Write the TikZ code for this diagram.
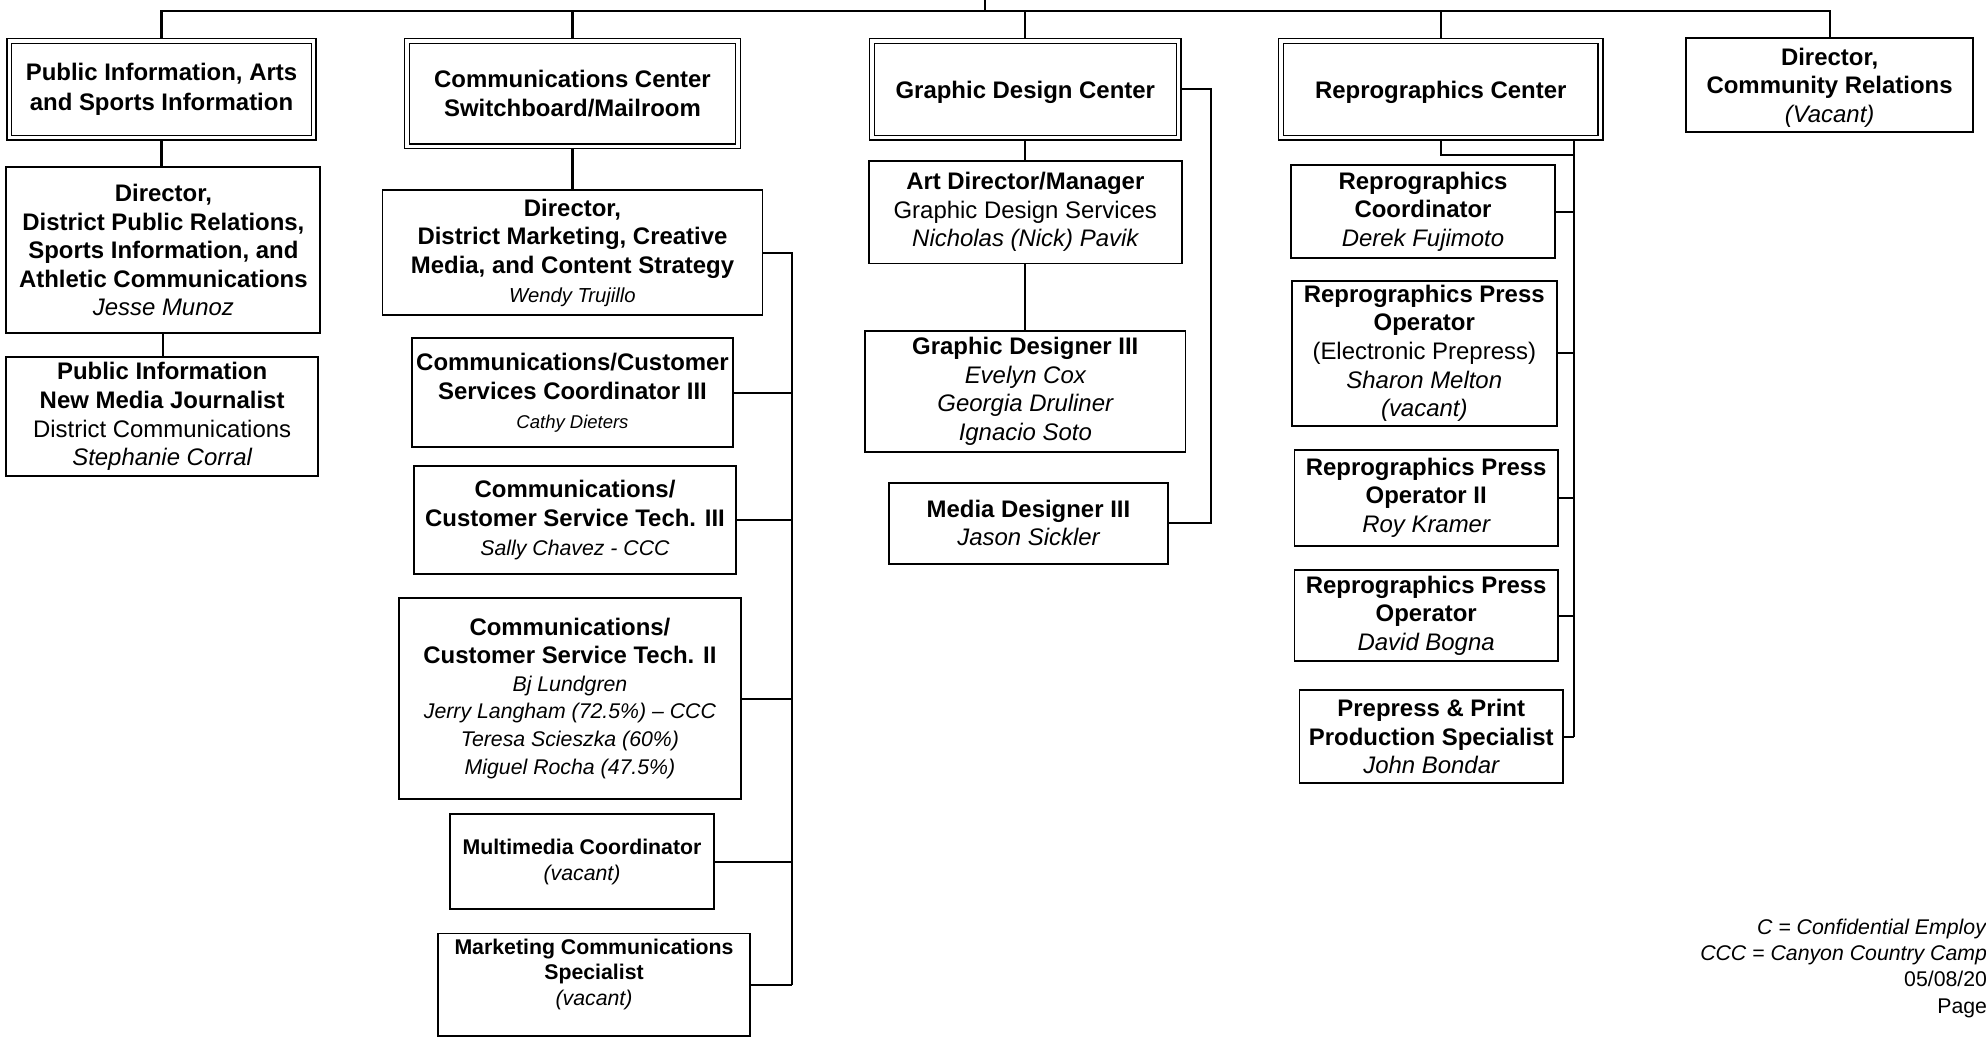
\documentclass[tikz,border=0pt]{standalone}
\usepackage{fontspec}
\setmainfont{Liberation Sans}
\pgfdeclarelayer{bg}
\pgfsetlayers{bg,main}
\newcommand{\nmi}[1]{{\mdseries\itshape #1}}
\newcommand{\nmr}[1]{{\mdseries #1}}
\newcommand{\smi}[1]{{\mdseries\itshape\fontsize{16.8}{20}\selectfont #1}}
\newcommand{\lowr}[1]{\raisebox{-2.5pt}[\height][\depth]{#1}}
\tikzset{
  box/.style={draw, line width=1.5pt, fill=white, inner sep=0pt, align=center,
    font=\bfseries\fontsize{18.9}{22.6}\selectfont},
  dbox/.style={box, line width=1.1pt, double, double distance=2.6pt},
  smallbox/.style={box, font=\bfseries\fontsize{16.8}{20}\selectfont},
  link/.style={line width=1.6pt},
}
\begin{document}
\begin{tikzpicture}[x=1pt,y=-1pt]
\useasboundingbox (0,0) rectangle (1568,819);
% column 1
\node[dbox, minimum width=240.2pt, minimum height=76.2pt, font=\bfseries\fontsize{18.9}{23.8}\selectfont] (pubinfo) at (127.5,70.5)
  {Public Information, Arts\\and Sports Information};
\node[box, minimum width=248pt, minimum height=131pt] (dirPR) at (129,197.5)
  {Director,\\District Public Relations,\\Sports Information, and\\Athletic Communications\\\nmi{Jesse Munoz}};
\node[box, minimum width=246pt, minimum height=94pt] (pubjour) at (128,329)
  {Public Information\\New Media Journalist\\\nmr{District Communications}\\\nmi{Stephanie Corral}};
% column 2
\node[dbox, minimum width=261.2pt, minimum height=83.2pt] (commcenter) at (452,74)
  {Communications Center\\Switchboard/Mailroom};
\node[box, minimum width=300pt, minimum height=99pt] (dirMkt) at (452,199.5)
  {Director,\\District Marketing, Creative\\Media, and Content Strategy\\{\mdseries\itshape\fontsize{16}{19}\selectfont Wendy Trujillo}};
\node[box, minimum width=254pt, minimum height=86pt] (ccsc) at (452,310)
  {Communications/Customer\\Services Coordinator III\\{\mdseries\itshape\fontsize{14.6}{19}\selectfont Cathy Dieters}};
\node[box, minimum width=254pt, minimum height=85pt] (techthree) at (454,410.5)
  {Communications/\\Customer Service Tech. III\\\smi{Sally Chavez - CCC}};
\node[box, minimum width=270pt, minimum height=159pt, font=\bfseries\fontsize{18.9}{22}\selectfont] (techtwo) at (450,551.5)
  {Communications/\\Customer Service Tech. II\\\smi{Bj Lundgren}\\\smi{Jerry Langham (72.5\%) – CCC}\\\smi{Teresa Scieszka (60\%)}\\\smi{Miguel Rocha (47.5\%)}};
\node[smallbox, minimum width=209pt, minimum height=75pt] (multimedia) at (459.5,680.5)
  {Multimedia Coordinator\\\nmi{(vacant)}};
\node[smallbox, minimum width=246pt, minimum height=81pt] (mktspec) at (469,777.5)
  {Marketing Communications\\Specialist\\\nmi{(vacant)}\\\mbox{}};
% column 3
\node[dbox, minimum width=242.2pt, minimum height=76.2pt] (gdc) at (809.5,70.5)
  {\lowr{Graphic Design Center}};
\node[box, minimum width=247pt, minimum height=81pt] (artdir) at (809.5,167.5)
  {Art Director/Manager\\\nmr{Graphic Design Services}\\\nmi{Nicholas (Nick) Pavik}};
\node[box, minimum width=253pt, minimum height=96pt] (gdthree) at (809.5,309)
  {Graphic Designer III\\\nmi{Evelyn Cox}\\\nmi{Georgia Druliner}\\\nmi{Ignacio Soto}};
\node[box, minimum width=220pt, minimum height=64pt] (media) at (812,413)
  {Media Designer III\\\nmi{Jason Sickler}};
% column 4
\node[dbox, minimum width=252.2pt, minimum height=76.2pt] (repro) at (1137.5,70.5)
  {\lowr{Reprographics Center}};
\node[box, minimum width=209pt, minimum height=74pt] (reprocoord) at (1123.5,167)
  {Reprographics\\Coordinator\\\nmi{Derek Fujimoto}};
\node[box, minimum width=209pt, minimum height=114pt] (pressa) at (1124.5,279)
  {Reprographics Press\\Operator\\\nmr{(Electronic Prepress)}\\\nmi{Sharon Melton}\\\nmi{(vacant)}};
\node[box, minimum width=208pt, minimum height=76pt] (pressb) at (1126,393)
  {Reprographics Press\\Operator II\\\nmi{Roy Kramer}};
\node[box, minimum width=208pt, minimum height=72pt] (pressc) at (1126,486)
  {Reprographics Press\\Operator\\\nmi{David Bogna}};
\node[box, minimum width=208pt, minimum height=73pt] (prepress) at (1130,581.5)
  {Prepress \& Print\\Production Specialist\\\nmi{John Bondar}};
% column 5
\node[box, minimum width=227pt, minimum height=74pt] (commrel) at (1444.5,67)
  {\lowr{\begin{tabular}{@{}c@{}}Director,\\Community Relations\\\nmi{(Vacant)}\end{tabular}}};
% footer
\node[anchor=east, inner sep=0pt, align=right, font=\fontsize{16.8}{20.7}\selectfont] (legend) at (1569,764.5)
  {\textit{C = Confidential Employ}\\\textit{CCC = Canyon Country Camp}\\05/08/20\\Page};
% connectors
\begin{pgfonlayer}{bg}
\coordinate (ptop) at (778,0);
\coordinate (bus) at (778,8.5);
\draw[link] (ptop) -- (bus);
\foreach \n in {pubinfo,commcenter,gdc,repro,commrel}
  \draw[link] (bus) -| (\n.north);
\draw[link] (pubinfo.south) -- (pubinfo.south |- dirPR.north);
\draw[link] (dirPR.south) -- (dirPR.south |- pubjour.north);
\draw[link] (commcenter.south) -- (dirMkt.north);
\coordinate (mb) at (625,777.5);
\draw[link] (dirMkt.east) -| (mb);
\foreach \n in {ccsc,techthree,techtwo,multimedia,mktspec}
  \draw[link] (\n.east) -- (\n.east -| mb);
\draw[link] (gdc.south) -- (artdir.north);
\draw[link] (artdir.south) -- (gdthree.north);
\coordinate (gb) at (956,413);
\draw[link] (gdc.east) -| (gb) -- (media.east);
\coordinate (rj) at (1243,122);
\draw[link] (repro.south) |- (rj);
\draw[link] (rj |- repro.south) -- (rj |- prepress.east);
\foreach \n in {reprocoord,pressa,pressb,pressc,prepress}
  \draw[link] (\n.east) -- (\n.east -| rj);
\end{pgfonlayer}
\end{tikzpicture}
\end{document}
